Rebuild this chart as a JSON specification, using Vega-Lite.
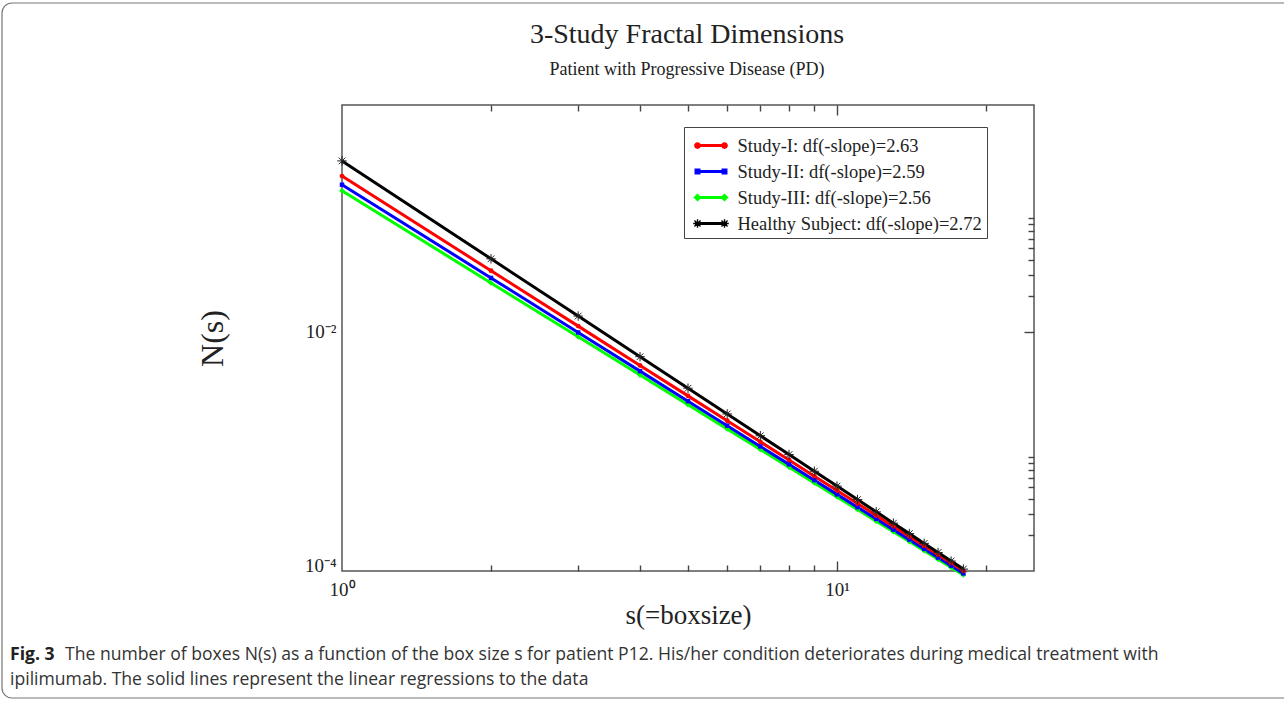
{
  "$schema": "https://vega.github.io/schema/vega-lite/v6.json",
  "width": 692,
  "height": 466,
  "autosize": "none",
  "padding": {"left": 342, "top": 105, "right": 250, "bottom": 130},
  "background": "white",
  "config": {
    "view": {"stroke": "#555", "strokeWidth": 1.5},
    "font": "Liberation Serif"
  },
  "datasets": {
    "pts": [
      {"series": "Study-III", "s": 1, "N": 0.1514},
      {"series": "Study-III", "s": 2, "N": 0.02567},
      {"series": "Study-III", "s": 3, "N": 0.009091},
      {"series": "Study-III", "s": 4, "N": 0.004352},
      {"series": "Study-III", "s": 5, "N": 0.002458},
      {"series": "Study-III", "s": 6, "N": 0.001542},
      {"series": "Study-III", "s": 7, "N": 0.001039},
      {"series": "Study-III", "s": 8, "N": 0.000738},
      {"series": "Study-III", "s": 9, "N": 0.000546},
      {"series": "Study-III", "s": 10, "N": 0.0004169},
      {"series": "Study-III", "s": 11, "N": 0.0003266},
      {"series": "Study-III", "s": 12, "N": 0.0002614},
      {"series": "Study-III", "s": 13, "N": 0.000213},
      {"series": "Study-III", "s": 14, "N": 0.0001762},
      {"series": "Study-III", "s": 15, "N": 0.0001476},
      {"series": "Study-III", "s": 16, "N": 0.0001252},
      {"series": "Study-III", "s": 17, "N": 0.0001072},
      {"series": "Study-III", "s": 18, "N": 0.0000926},
      {"series": "Study-II", "s": 1, "N": 0.1702},
      {"series": "Study-II", "s": 2, "N": 0.02827},
      {"series": "Study-II", "s": 3, "N": 0.009892},
      {"series": "Study-II", "s": 4, "N": 0.004695},
      {"series": "Study-II", "s": 5, "N": 0.002634},
      {"series": "Study-II", "s": 6, "N": 0.001643},
      {"series": "Study-II", "s": 7, "N": 0.001102},
      {"series": "Study-II", "s": 8, "N": 0.0007798},
      {"series": "Study-II", "s": 9, "N": 0.0005748},
      {"series": "Study-II", "s": 10, "N": 0.0004375},
      {"series": "Study-II", "s": 11, "N": 0.0003418},
      {"series": "Study-II", "s": 12, "N": 0.0002728},
      {"series": "Study-II", "s": 13, "N": 0.0002218},
      {"series": "Study-II", "s": 14, "N": 0.000183},
      {"series": "Study-II", "s": 15, "N": 0.0001531},
      {"series": "Study-II", "s": 16, "N": 0.0001295},
      {"series": "Study-II", "s": 17, "N": 0.0001107},
      {"series": "Study-II", "s": 18, "N": 0.0000955},
      {"series": "Study-I", "s": 1, "N": 0.2009},
      {"series": "Study-I", "s": 2, "N": 0.03246},
      {"series": "Study-I", "s": 3, "N": 0.011173},
      {"series": "Study-I", "s": 4, "N": 0.005243},
      {"series": "Study-I", "s": 5, "N": 0.002915},
      {"series": "Study-I", "s": 6, "N": 0.001805},
      {"series": "Study-I", "s": 7, "N": 0.0012034},
      {"series": "Study-I", "s": 8, "N": 0.000847},
      {"series": "Study-I", "s": 9, "N": 0.0006214},
      {"series": "Study-I", "s": 10, "N": 0.000471},
      {"series": "Study-I", "s": 11, "N": 0.0003666},
      {"series": "Study-I", "s": 12, "N": 0.0002916},
      {"series": "Study-I", "s": 13, "N": 0.0002362},
      {"series": "Study-I", "s": 14, "N": 0.0001944},
      {"series": "Study-I", "s": 15, "N": 0.0001621},
      {"series": "Study-I", "s": 16, "N": 0.0001368},
      {"series": "Study-I", "s": 17, "N": 0.0001167},
      {"series": "Study-I", "s": 18, "N": 0.0001004},
      {"series": "Healthy", "s": 1, "N": 0.2692},
      {"series": "Healthy", "s": 2, "N": 0.04085},
      {"series": "Healthy", "s": 3, "N": 0.01356},
      {"series": "Healthy", "s": 4, "N": 0.0062},
      {"series": "Healthy", "s": 5, "N": 0.003379},
      {"series": "Healthy", "s": 6, "N": 0.002058},
      {"series": "Healthy", "s": 7, "N": 0.001353},
      {"series": "Healthy", "s": 8, "N": 0.000941},
      {"series": "Healthy", "s": 9, "N": 0.0006831},
      {"series": "Healthy", "s": 10, "N": 0.0005129},
      {"series": "Healthy", "s": 11, "N": 0.0003957},
      {"series": "Healthy", "s": 12, "N": 0.0003123},
      {"series": "Healthy", "s": 13, "N": 0.0002512},
      {"series": "Healthy", "s": 14, "N": 0.0002054},
      {"series": "Healthy", "s": 15, "N": 0.0001702},
      {"series": "Healthy", "s": 16, "N": 0.0001428},
      {"series": "Healthy", "s": 17, "N": 0.0001211},
      {"series": "Healthy", "s": 18, "N": 0.0001037}
    ],
    "title1": [{"t": "3-Study Fractal Dimensions"}],
    "title2": [{"t": "Patient with Progressive Disease (PD)"}],
    "cap1": [{"t": "Fig. 3"}],
    "cap2": [{"t": "The number of boxes N(s) as a function of the box size s for patient P12. His/her condition deteriorates during medical treatment with"}],
    "cap3": [{"t": "ipilimumab. The solid lines represent the linear regressions to the data"}],
    "frame": [{"k": 1}]
  },
  "data": {"name": "pts"},
  "resolve": {"axis": {"x": "independent", "y": "independent"}},
  "layer": [
    {
      "transform": [{"filter": "datum.series == 'Study-III'"}],
      "mark": {"type": "line", "color": "#00ff00", "strokeWidth": 3},
      "encoding": {
        "x": {"field": "s", "type": "quantitative", "scale": {"type": "log", "domain": [1, 25], "nice": false},
          "axis": {"orient": "bottom", "values": [1, 10], "labelExpr": "datum.value == 1 ? '10⁰' : '10¹'", "ticks": false, "domain": false, "grid": false,
            "labelFont": "Liberation Serif", "labelFontSize": 19, "labelColor": "#222", "labelPadding": 9, "labelFlush": false, "labelOverlap": false,
            "title": "s(=boxsize)", "titleFont": "Liberation Serif", "titleFontSize": 27, "titleFontWeight": "normal", "titleColor": "#222", "titlePadding": 3}},
        "y": {"field": "N", "type": "quantitative", "scale": {"type": "log", "domain": [0.0001, 0.79], "nice": false},
          "axis": {"orient": "left", "values": [0.0001, 0.01], "labelExpr": "datum.value < 0.001 ? '10⁻⁴' : '10⁻²'", "ticks": false, "domain": false, "grid": false,
            "labelFont": "Liberation Serif", "labelFontSize": 19, "labelColor": "#222", "labelPadding": 6, "labelFlush": false, "labelOverlap": false,
            "labelBaseline": {"condition": {"test": "datum.value < 0.001", "value": "alphabetic"}, "value": "middle"},
            "title": "N(s)", "titleFont": "Liberation Serif", "titleFontSize": 32, "titleFontWeight": "normal", "titleColor": "#222", "titlePadding": 75}}
      }
    },
    {
      "transform": [{"filter": "datum.series == 'Study-II'"}],
      "mark": {"type": "line", "color": "#0000ff", "strokeWidth": 3},
      "encoding": {
        "x": {"field": "s", "type": "quantitative",
          "axis": {"orient": "bottom", "values": [2, 3, 4, 5, 6, 7, 8, 9, 10, 20], "labels": false, "domain": false, "grid": false, "title": null,
            "tickColor": "#444", "tickWidth": 1.4, "tickSize": {"condition": {"test": "datum.value == 10", "value": -10}, "value": -6}}},
        "y": {"field": "N", "type": "quantitative",
          "axis": {"orient": "right", "values": [0.0002, 0.0003, 0.0004, 0.0005, 0.0006, 0.0007, 0.0008, 0.0009, 0.01, 0.02, 0.03, 0.04, 0.05, 0.06, 0.07, 0.08, 0.09], "labels": false, "domain": false, "grid": false, "title": null,
            "tickColor": "#444", "tickWidth": 1.4, "tickSize": {"condition": {"test": "datum.value == 0.01", "value": -10}, "value": -6}}}
      }
    },
    {
      "transform": [{"filter": "datum.series == 'Study-I'"}],
      "mark": {"type": "line", "color": "#ff0000", "strokeWidth": 3},
      "encoding": {
        "x": {"field": "s", "type": "quantitative",
          "axis": {"orient": "top", "values": [2, 3, 4, 5, 6, 7, 8, 9, 10, 20], "labels": false, "domain": false, "grid": false, "title": null,
            "tickColor": "#444", "tickWidth": 1.4, "tickSize": {"condition": {"test": "datum.value == 10", "value": -10}, "value": -6}}},
        "y": {"field": "N", "type": "quantitative", "axis": null}
      }
    },
    {
      "transform": [{"filter": "datum.series == 'Healthy'"}],
      "mark": {"type": "line", "color": "#000000", "strokeWidth": 3},
      "encoding": {
        "x": {"field": "s", "type": "quantitative", "axis": null},
        "y": {"field": "N", "type": "quantitative", "axis": null}
      }
    },
    {
      "transform": [{"filter": "datum.series == 'Study-III'"}],
      "mark": {"type": "point", "shape": "diamond", "filled": true, "color": "#00ff00", "size": 32, "opacity": 1},
      "encoding": {
        "x": {"field": "s", "type": "quantitative", "axis": null},
        "y": {"field": "N", "type": "quantitative", "axis": null}
      }
    },
    {
      "transform": [{"filter": "datum.series == 'Study-II'"}],
      "mark": {"type": "point", "shape": "square", "filled": true, "color": "#0000ff", "size": 20, "opacity": 1},
      "encoding": {
        "x": {"field": "s", "type": "quantitative", "axis": null},
        "y": {"field": "N", "type": "quantitative", "axis": null}
      }
    },
    {
      "transform": [{"filter": "datum.series == 'Study-I'"}],
      "mark": {"type": "point", "shape": "circle", "filled": true, "color": "#ff0000", "size": 24, "opacity": 1},
      "encoding": {
        "x": {"field": "s", "type": "quantitative", "axis": null},
        "y": {"field": "N", "type": "quantitative", "axis": null}
      }
    },
    {
      "transform": [{"filter": "datum.series == 'Healthy'"}],
      "mark": {"type": "point", "shape": "M-1,0L1,0M0,-1L0,1M-0.7,-0.7L0.7,0.7M-0.7,0.7L0.7,-0.7", "filled": false, "color": "#222", "strokeWidth": 1, "size": 90, "opacity": 1},
      "encoding": {
        "x": {"field": "s", "type": "quantitative", "axis": null},
        "y": {"field": "N", "type": "quantitative", "axis": null}
      }
    },
    {
      "mark": {"type": "point", "filled": true, "clip": true, "xOffset": 3000, "opacity": 1},
      "encoding": {
        "x": {"field": "s", "type": "quantitative", "axis": null},
        "y": {"field": "N", "type": "quantitative", "axis": null},
        "color": {"field": "series", "type": "nominal",
          "scale": {"domain": ["Study-I", "Study-II", "Study-III", "Healthy"], "range": ["#ff0000", "#0000ff", "#00ff00", "#000000"]},
          "legend": {"orient": "none", "legendX": 342, "legendY": 22, "title": null, "strokeColor": "#444", "fillColor": "white", "padding": 5,
            "symbolSize": 729, "symbolOffset": 8.5, "labelOffset": 13, "rowPadding": 3, "symbolOpacity": 1, "symbolStrokeWidth": 0,
            "labelFont": "Liberation Serif", "labelFontSize": 18.5, "labelColor": "#222", "labelLimit": 400,
            "labelExpr": "datum.label == 'Study-I' ? 'Study-I: df(-slope)=2.63' : datum.label == 'Study-II' ? 'Study-II: df(-slope)=2.59' : datum.label == 'Study-III' ? 'Study-III: df(-slope)=2.56' : 'Healthy Subject: df(-slope)=2.72'"}},
        "shape": {"field": "series", "type": "nominal",
          "scale": {"domain": ["Study-I", "Study-II", "Study-III", "Healthy"],
            "range": [
              "M-1.185,-0.11L1.185,-0.11L1.185,0.11L-1.185,0.11Z M-1.25,0A0.25,0.25,0,1,1,-0.75,0A0.25,0.25,0,1,1,-1.25,0Z M0.75,0A0.25,0.25,0,1,1,1.25,0A0.25,0.25,0,1,1,0.75,0Z",
              "M-1.185,-0.11L1.185,-0.11L1.185,0.11L-1.185,0.11Z M-1.22,-0.22L-0.78,-0.22L-0.78,0.22L-1.22,0.22Z M0.78,-0.22L1.22,-0.22L1.22,0.22L0.78,0.22Z",
              "M-1.185,-0.11L1.185,-0.11L1.185,0.11L-1.185,0.11Z M-1,-0.3L-0.7,0L-1,0.3L-1.3,0Z M1,-0.3L1.3,0L1,0.3L0.7,0Z",
              "M-1.185,-0.11L1.185,-0.11L1.185,0.11L-1.185,0.11Z M-1.32,0.05L-1.32,-0.05L-0.68,-0.05L-0.68,0.05Z M-1.05,-0.32L-0.95,-0.32L-0.95,0.32L-1.05,0.32Z M-1.2617,-0.1909L-1.1909,-0.2617L-0.7383,0.1909L-0.8091,0.2617Z M-0.8091,-0.2617L-0.7383,-0.1909L-1.1909,0.2617L-1.2617,0.1909Z M0.68,0.05L0.68,-0.05L1.32,-0.05L1.32,0.05Z M0.95,-0.32L1.05,-0.32L1.05,0.32L0.95,0.32Z M0.7383,-0.1909L0.8091,-0.2617L1.2617,0.1909L1.1909,0.2617Z M1.1909,-0.2617L1.2617,-0.1909L0.8091,0.2617L0.7383,0.1909Z"
            ]}}
      }
    },
    {
      "data": {"name": "title1"},
      "mark": {"type": "text", "align": "center", "baseline": "alphabetic", "font": "Liberation Serif", "fontSize": 28, "color": "#222"},
      "encoding": {"text": {"field": "t"}, "x": {"value": 345}, "y": {"value": -62}}
    },
    {
      "data": {"name": "title2"},
      "mark": {"type": "text", "align": "center", "baseline": "alphabetic", "font": "Liberation Serif", "fontSize": 18, "color": "#222"},
      "encoding": {"text": {"field": "t"}, "x": {"value": 345}, "y": {"value": -30}}
    },
    {
      "data": {"name": "cap1"},
      "mark": {"type": "text", "align": "left", "baseline": "middle", "font": "Open Sans", "fontSize": 17.6, "fontWeight": "bold", "color": "#222"},
      "encoding": {"text": {"field": "t"}, "x": {"value": -332}, "y": {"value": 550}}
    },
    {
      "data": {"name": "cap2"},
      "mark": {"type": "text", "align": "left", "baseline": "middle", "font": "Open Sans", "fontSize": 17.6, "color": "#333"},
      "encoding": {"text": {"field": "t"}, "x": {"value": -277}, "y": {"value": 550}}
    },
    {
      "data": {"name": "cap3"},
      "mark": {"type": "text", "align": "left", "baseline": "middle", "font": "Open Sans", "fontSize": 17.6, "color": "#333"},
      "encoding": {"text": {"field": "t"}, "x": {"value": -332}, "y": {"value": 575}}
    },
    {
      "data": {"name": "frame"},
      "mark": {"type": "rect", "fill": null, "fillOpacity": 0, "stroke": "#777", "strokeWidth": 1.2, "cornerRadius": 10},
      "encoding": {"x": {"value": -340}, "x2": {"value": 960}, "y": {"value": -102}, "y2": {"value": 593}}
    }
  ]
}
